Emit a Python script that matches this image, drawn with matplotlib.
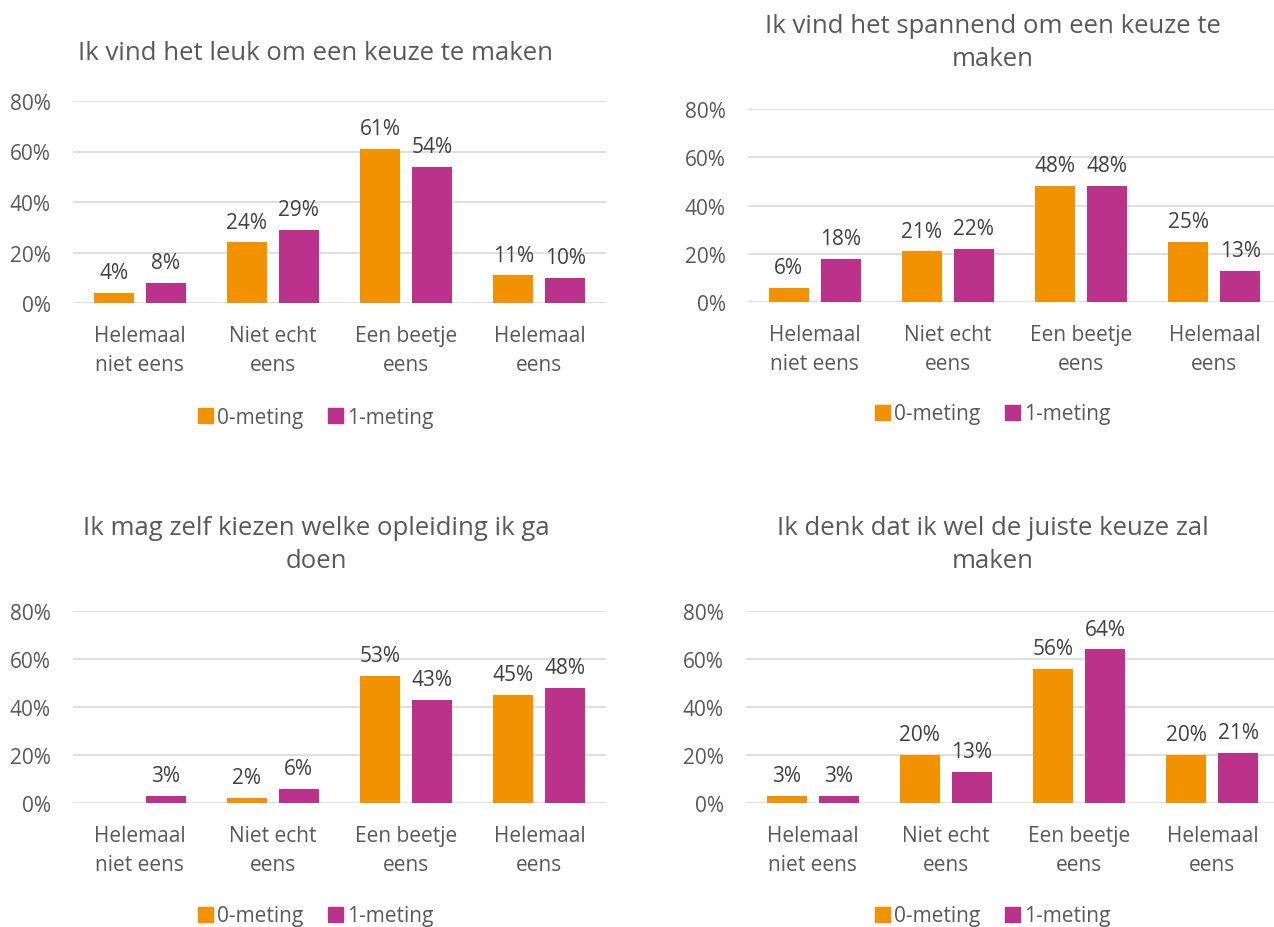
import matplotlib
matplotlib.use("Agg")
from matplotlib import pyplot as plt
from matplotlib.patches import Patch
import numpy as np

W, H = 1274, 928

categories = ["Helemaal\nniet eens", "Niet echt\neens", "Een beetje\neens", "Helemaal\neens"]
series_names = ["0-meting", "1-meting"]
colors = ["#F39200", "#BA3289"]

titles = [
    "Ik vind het leuk om een keuze te maken",
    "Ik vind het spannend om een keuze te\nmaken",
    "Ik mag zelf kiezen welke opleiding ik ga\ndoen",
    "Ik denk dat ik wel de juiste keuze zal\nmaken",
]

leuk_0 = [4, 24, 61, 11]
leuk_1 = [8, 29, 54, 10]
spannend_0 = [6, 21, 48, 25]
spannend_1 = [18, 22, 48, 13]
kiezen_0 = [0, 2, 53, 45]
kiezen_1 = [3, 6, 43, 48]
juiste_0 = [3, 20, 56, 20]
juiste_1 = [3, 13, 64, 21]

panel_data = [(leuk_0, leuk_1), (spannend_0, spannend_1),
              (kiezen_0, kiezen_1), (juiste_0, juiste_1)]

# pixel layout: (axes left, axes right, y of 80%, y of 0%, title y, legend y, chart center x)
layout = [
    (73, 606, 102, 304, 53, 418, 316),
    (748, 1281, 110, 303, 43, 415, 993),
    (73, 606, 612, 804, 545, 917, 316),
    (746, 1279, 612, 804, 545, 917, 993),
]

txt = "#595959"
grid = "#D9D9D9"
plt.rcParams['font.family'] = ['Open Sans', 'DejaVu Sans']

fig = plt.figure(figsize=(W / 100, H / 100), dpi=100)

x = np.arange(len(categories))
bw = 0.30
off = 0.195
fs = 15

for i, (vals, lay) in enumerate(zip(panel_data, layout)):
    l, r, y80, y0, ty, ly, cx = lay
    ax = fig.add_axes([l / W, 1 - y0 / H, (r - l) / W, (y0 - y80) / H])
    for k, v in enumerate(vals):
        pos = x + (k * 2 - 1) * off
        bars = ax.bar(pos, v, width=bw, color=colors[k], zorder=2)
        for b, val in zip(bars, v):
            if val == 0:
                continue
            ax.annotate(f"{val}%", (b.get_x() + b.get_width() / 2, val),
                        xytext=(0, 7), textcoords="offset points",
                        ha="center", va="bottom", fontsize=fs, color="#404040")
    ax.set_ylim(0, 80)
    ax.set_xlim(-0.5, 3.5)
    ax.set_yticks([0, 20, 40, 60, 80])
    ax.set_yticklabels([f"{t}%" for t in [0, 20, 40, 60, 80]])
    ax.set_xticks(x)
    ax.set_xticklabels(categories, linespacing=1.5)
    ax.tick_params(axis="both", length=0, labelsize=fs, colors=txt)
    ax.tick_params(axis="y", pad=16)
    ax.tick_params(axis="x", pad=16)
    ax.grid(axis="y", color=grid, lw=1.2, zorder=0)
    for s in ax.spines.values():
        s.set_visible(False)
    fig.text(cx / W, 1 - ty / H, titles[i], ha="center", va="center",
             fontsize=18.5, color=txt, linespacing=1.45)
    handles = [Patch(color=c) for c in colors]
    fig.legend(handles, series_names, loc="center", bbox_to_anchor=(cx / W, 1 - ly / H),
               ncol=2, frameon=False, fontsize=fs, labelcolor=txt,
               handlelength=0.7, handleheight=0.7, handletextpad=0.2, columnspacing=1.2)

fig.savefig("out.png", dpi=100)
